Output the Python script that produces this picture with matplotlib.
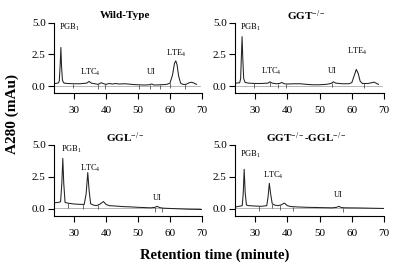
import matplotlib
matplotlib.use("Agg")
import matplotlib.pyplot as plt
import numpy as np

plt.rcParams['font.family'] = ['Liberation Serif', 'DejaVu Serif']
plt.rcParams['mathtext.fontset'] = 'custom'
plt.rcParams['mathtext.rm'] = 'Liberation Serif'
plt.rcParams['mathtext.it'] = 'Liberation Serif:italic'
plt.rcParams['mathtext.bf'] = 'Liberation Serif:bold'

# Wild-Type trace
wt_t = [24.0, 25.0, 25.4, 25.7, 25.9, 26.1, 26.4, 26.9, 28, 30, 32, 34, 34.7, 35.4, 36.5, 37.5,
        38.5, 39.3, 40, 41, 42, 43, 44, 46, 48, 50, 52, 53.5, 54.3, 55, 57, 59, 60, 60.8, 61.4,
        61.8, 62.2, 62.7, 63.3, 64, 65, 66, 66.8, 67.5, 68.3]
wt_v = [0.22, 0.25, 0.4, 1.8, 3.05, 1.6, 0.45, 0.25, 0.22, 0.2, 0.2, 0.25, 0.38, 0.25, 0.2, 0.15,
        0.28, 0.2, 0.15, 0.22, 0.18, 0.22, 0.18, 0.2, 0.15, 0.12, 0.1, 0.12, 0.18, 0.1, 0.12, 0.15,
        0.25, 0.9, 1.8, 2.0, 1.7, 0.8, 0.25, 0.15, 0.15, 0.28, 0.32, 0.25, 0.15]
wt_marks = [29.8, 37.6, 39.7, 50.4, 53.7, 56.9, 60.0, 64.7]

# GGT-/- trace
ggt_t = [24, 25.2, 25.5, 25.75, 25.95, 26.15, 26.45, 26.9, 28, 30, 32, 34, 34.6, 35.3, 36.5, 37.5,
         38.3, 39, 40, 42, 44, 46, 48, 50, 52, 53.5, 54.3, 55, 57, 59, 60, 60.7, 61.4, 62.0, 62.6,
         63.3, 65, 66.2, 66.9, 67.5, 68.3]
ggt_v = [0.25, 0.28, 0.6, 2.5, 3.9, 2.3, 0.6, 0.3, 0.25, 0.22, 0.22, 0.25, 0.35, 0.25, 0.2, 0.22,
         0.3, 0.2, 0.18, 0.2, 0.2, 0.15, 0.12, 0.12, 0.15, 0.22, 0.35, 0.25, 0.2, 0.2, 0.28, 0.8,
         1.33, 1.0, 0.4, 0.22, 0.22, 0.28, 0.33, 0.25, 0.15]
ggt_marks = [29.5, 34.7, 37.2, 39.6, 53.8, 63.8]

# GGL-/- trace
ggl_t = [24, 25, 25.8, 26.2, 26.5, 26.8, 27.2, 28, 30, 32, 33.2, 33.8, 34.3, 34.7, 35.2, 36, 37,
         38, 39.2, 40, 41, 43, 45, 48, 50, 52, 54, 55.3, 56, 56.7, 58, 60, 63, 66, 69.9]
ggl_v = [0.48, 0.5, 0.55, 2.0, 3.95, 2.0, 0.5, 0.45, 0.38, 0.35, 0.35, 1.2, 2.84, 1.5, 0.4, 0.3,
         0.25, 0.35, 0.57, 0.35, 0.25, 0.22, 0.18, 0.15, 0.12, 0.1, 0.08, 0.12, 0.2, 0.1, 0.05,
         0.03, 0.0, -0.03, -0.05]
ggl_marks = [28.1, 32.8, 37.5, 55.3, 57.5]

# GGT-/- GGL-/- trace
dbl_t = [24, 25, 26, 26.3, 26.6, 26.9, 27.3, 28, 30, 32, 33.6, 34.0, 34.4, 34.8, 35.3, 36, 37, 38,
         39.1, 40, 41, 43, 46, 50, 54, 55.3, 56, 56.7, 58, 62, 66, 69.9]
dbl_v = [0.15, 0.2, 0.25, 1.2, 3.1, 1.3, 0.3, 0.25, 0.22, 0.2, 0.25, 0.9, 2.0, 1.2, 0.4, 0.3,
         0.25, 0.3, 0.45, 0.25, 0.18, 0.15, 0.12, 0.1, 0.08, 0.12, 0.2, 0.1, 0.08, 0.07, 0.05, 0.03]
dbl_marks = [31.3, 35.3, 37.8, 41.8, 57.3]

# peak labels: (text, t, v)
wt_labels = [('PGB$_1$', 25.3, 4.6), ('LTC$_4$', 31.9, 1.1), ('UI', 52.8, 1.1), ('LTE$_4$', 58.75, 2.58)]
ggt_labels = [('PGB$_1$', 25.3, 4.6), ('LTC$_4$', 31.9, 1.17), ('UI', 52.6, 1.17), ('LTE$_4$', 58.4, 2.73)]
ggl_labels = [('PGB$_1$', 25.9, 4.66), ('LTC$_4$', 31.9, 3.2), ('UI', 54.6, 0.83)]
dbl_labels = [('PGB$_1$', 25.3, 4.3), ('LTC$_4$', 32.3, 2.6), ('UI', 54.3, 1.1)]

panels = [
    ([0.135, 0.654, 0.37, 0.262], 'Wild-Type', wt_t, wt_v, wt_marks, wt_labels),
    ([0.5875, 0.654, 0.3725, 0.262], 'GGT$^{-/-}$', ggt_t, ggt_v, ggt_marks, ggt_labels),
    ([0.135, 0.2, 0.37, 0.263], 'GGL$^{-/-}$', ggl_t, ggl_v, ggl_marks, ggl_labels),
    ([0.5875, 0.2, 0.3725, 0.263], 'GGT$^{-/-}$-GGL$^{-/-}$', dbl_t, dbl_v, dbl_marks, dbl_labels),
]

fig = plt.figure(figsize=(4, 2.7), dpi=100)

for rect, title, t, v, marks, labels in panels:
    ax = fig.add_axes(rect)
    ax.plot([24, 69.5], [0.06, 0.06], color='#aaaaaa', lw=0.6)
    ax.plot(t, v, color='#222222', lw=0.75)
    mv = np.interp(marks, t, v)
    ax.vlines(marks, mv - 0.35, mv, color='#333333', lw=0.5)
    for txt, lx, ly in labels:
        ax.text(lx, ly, txt, fontsize=6, va='center', ha='left')
    ax.set_xlim(23.75, 70)
    ax.set_ylim(-0.56, 5.0)
    ax.set_xticks([30, 40, 50, 60, 70])
    ax.set_yticks([0.0, 2.5, 5.0])
    ax.set_yticklabels(['0.0', '2.5', '5.0'])
    for s in ['top', 'right']:
        ax.spines[s].set_visible(False)
    ax.spines['left'].set_linewidth(0.8)
    ax.spines['bottom'].set_linewidth(0.8)
    ax.tick_params(labelsize=8, length=4, width=0.8, pad=2)
    ax.tick_params(axis='x', pad=5)
    ax.text(0.48, 1.1, title, transform=ax.transAxes, ha='center', va='center',
            fontsize=8, fontweight='bold')

fig.text(0.03, 0.578, 'A280 (mAu)', rotation=90, ha='center', va='center',
         fontsize=11, fontweight='bold')
fig.text(0.5375, 0.056, 'Retention time (minute)', ha='center', va='center',
         fontsize=10.5, fontweight='bold')

fig.savefig('out.png', dpi=100)
